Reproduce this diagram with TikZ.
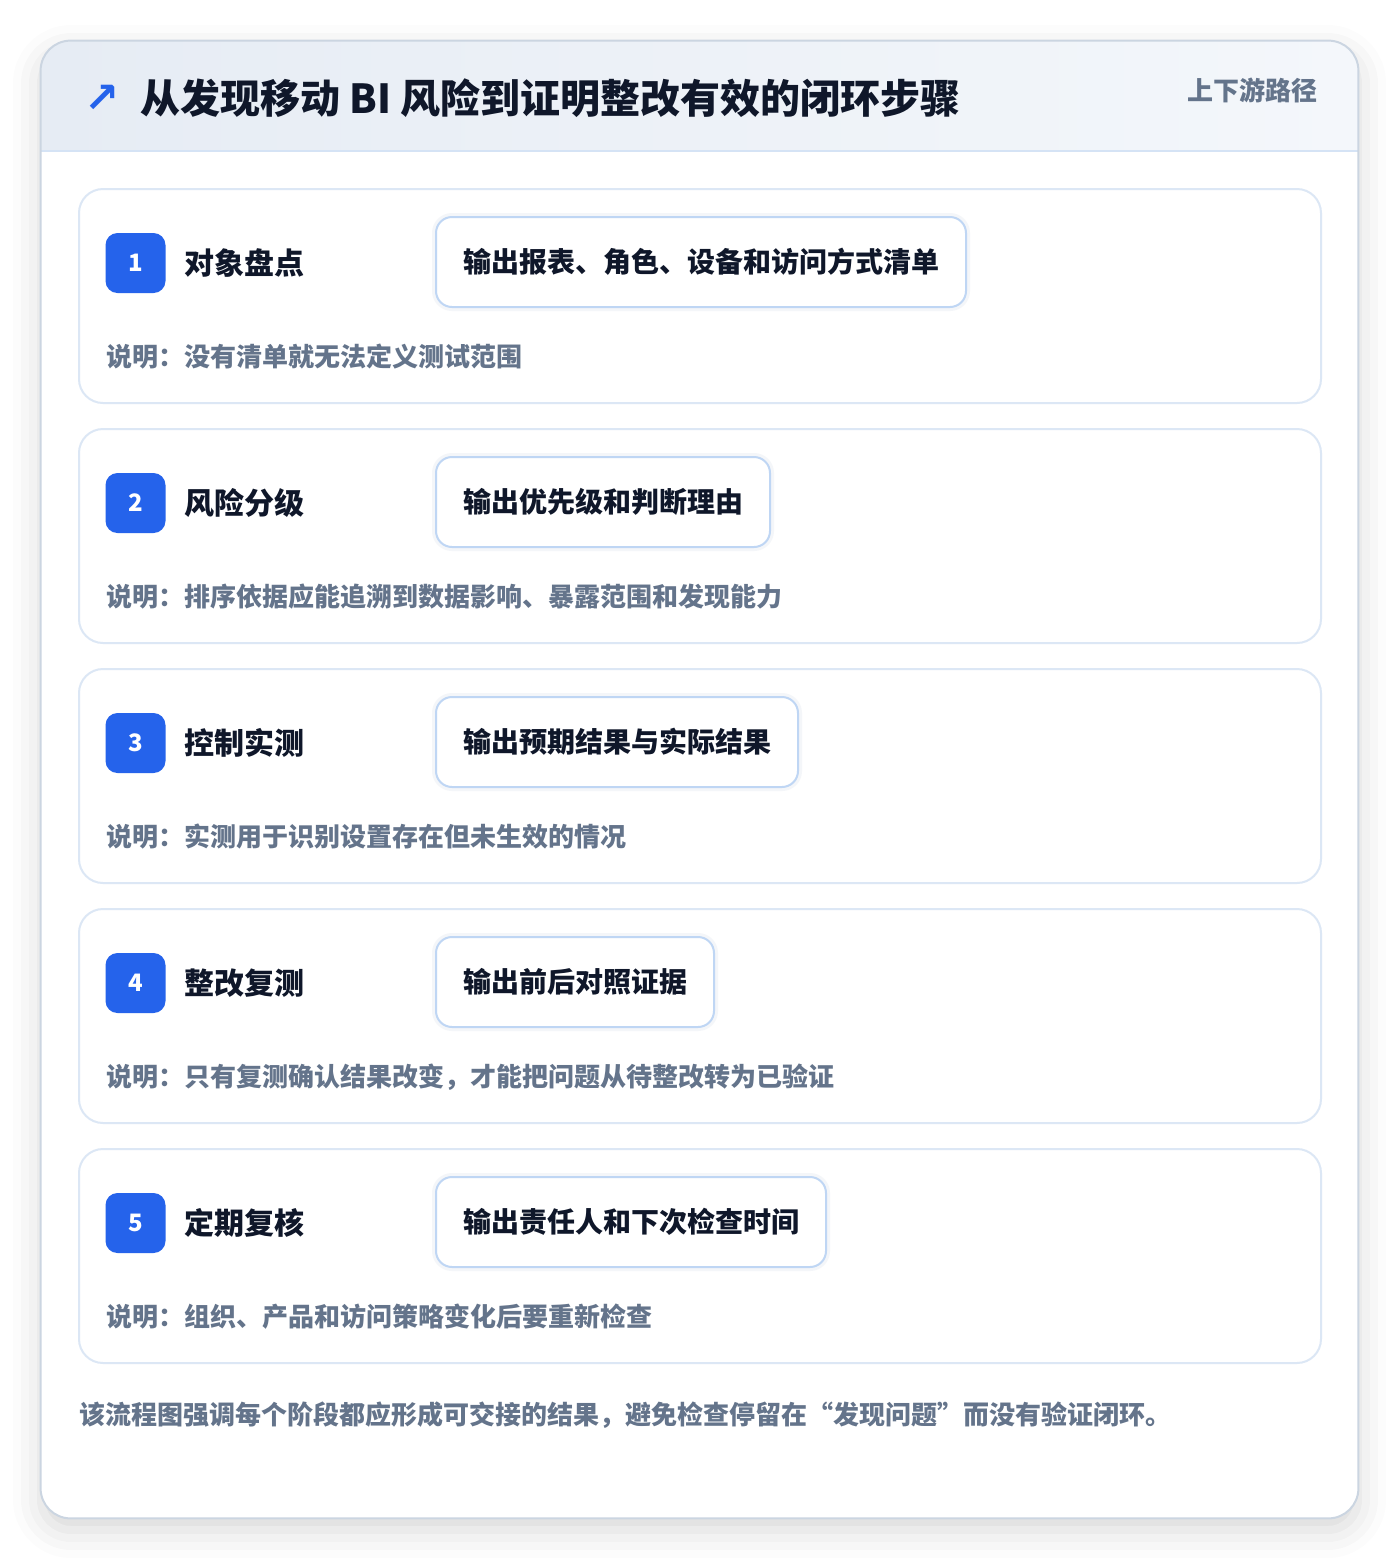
\documentclass[tikz,border=0pt]{standalone}
\usepackage{fontspec}
\setmainfont{Noto Sans CJK SC}
\newfontfamily\symfont{DejaVu Sans}
\usetikzlibrary{positioning,shadows.blur}
\definecolor{ink}{HTML}{0F172A}
\definecolor{slate}{HTML}{64748B}
\definecolor{badgeblue}{HTML}{2563EB}
\definecolor{panelline}{HTML}{CBD5E1}
\definecolor{cardline}{HTML}{DCE7F5}
\definecolor{outline}{HTML}{BFD6F4}
\definecolor{outshade}{HTML}{EEF1F5}
\definecolor{headl}{HTML}{E6ECF4}
\definecolor{headr}{HTML}{F4F7FB}
\definecolor{headline}{HTML}{D5E3F5}

\begin{document}
\begin{tikzpicture}[x=0.5pt, y=-0.5pt,
    every node/.style={inner sep=0pt},
    panel/.style={fill=white, rounded corners=15pt, minimum width=658.5pt, minimum height=738.5pt,
      blur shadow={shadow xshift=0pt, shadow yshift=-6pt, shadow blur radius=14pt, shadow opacity=16}},
    card/.style={draw=cardline, line width=1pt, fill=white, rounded corners=12pt, minimum width=621pt, minimum height=107pt},
    badge/.style={fill=badgeblue, rounded corners=6pt, minimum size=30pt, text=white, font=\bfseries\fontsize{12}{12}\selectfont},
    steptitle/.style={anchor=west, text=ink, font=\bfseries\fontsize{15}{15}\selectfont},
    outbox/.style={anchor=west, draw=outline, line width=1pt, fill=white, rounded corners=8pt, minimum height=45pt,
      inner xsep=13.5pt, text=ink, font=\bfseries\fontsize{14}{14}\selectfont,
      preaction={draw=outshade, line width=4pt, opacity=0.6}},
    note/.style={anchor=west, text=slate, font=\bfseries\fontsize{13}{13}\selectfont}]
\useasboundingbox (0,0) rectangle (1400,1560);

% outer panel and header
\node[panel] (panel) at (699.5,779.5) {};
\begin{scope}
  \clip[rounded corners=15pt] (panel.south west) rectangle (panel.north east);
  \shade[left color=headl, right color=headr] (41,41) rectangle (1358,151);
\end{scope}
\draw[headline, line width=1pt] (41,151) -- (1358,151);
\draw[panelline, line width=1pt, rounded corners=15pt] (panel.south west) rectangle (panel.north east);

\node[text=badgeblue, font=\symfont\bfseries\fontsize{21}{21}\selectfont] (arrow) at (102,99) {↗};
\node[anchor=west, text=ink, font=\bfseries\fontsize{20}{20}\selectfont] (title) at (140,98) {从发现移动 BI 风险到证明整改有效的闭环步骤};
\node[anchor=east, text=slate, font=\bfseries\fontsize{13}{13}\selectfont] (path) at (1318,90) {上下游路径};

% steps
\foreach \n/\ttl/\out/\desc [count=\i from 0] in {
    1/对象盘点/输出报表、角色、设备和访问方式清单/说明：没有清单就无法定义测试范围,
    2/风险分级/输出优先级和判断理由/说明：排序依据应能追溯到数据影响、暴露范围和发现能力,
    3/控制实测/输出预期结果与实际结果/说明：实测用于识别设置存在但未生效的情况,
    4/整改复测/输出前后对照证据/说明：只有复测确认结果改变，才能把问题从待整改转为已验证,
    5/定期复核/输出责任人和下次检查时间/说明：组织、产品和访问策略变化后要重新检查}
{
  \pgfmathsetmacro\ytop{189+240*\i}
  \node[card] (card\n) at (700,\ytop+107) {};
  \node[badge] (badge\n) at (135.5,\ytop+74) {\n};
  \node[steptitle] (name\n) at (184,\ytop+74) {\ttl};
  \node[outbox] (out\n) at (435,\ytop+73) {\out};
  \node[note] (note\n) at (106,\ytop+168) {\desc};
}

\node[note] (summary) at (79,1415) {该流程图强调每个阶段都应形成可交接的结果，避免检查停留在“发现问题”而没有验证闭环。};
\end{tikzpicture}
\end{document}
